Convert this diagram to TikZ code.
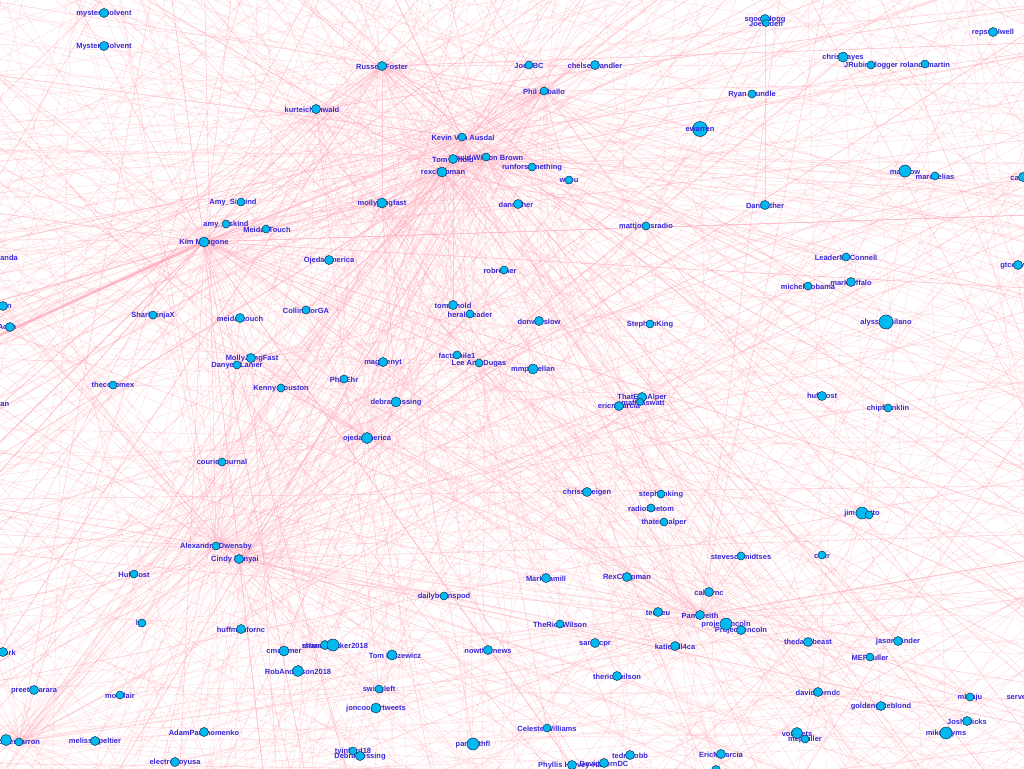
\documentclass[tikz,border=0pt]{standalone}
\usepackage{fontspec}
\setmainfont{Liberation Sans}
\definecolor{edgepink}{RGB}{255,170,185}
\definecolor{vfill}{RGB}{0,185,240}
\definecolor{vline}{RGB}{10,50,90}
\definecolor{labblue}{RGB}{55,40,215}
\tikzset{
  vtx/.style={circle,draw=vline,line width=0.5pt,fill=vfill,inner sep=0pt},
  lab/.style={font=\bfseries\fontsize{7.5}{8}\selectfont,text=labblue,inner sep=0pt},
  edge/.style={draw=edgepink,line width=0.3pt,draw opacity=0.5},
  bundle/.style={draw=edgepink,line width=2.6pt,draw opacity=0.8},
}
\def\nodelist{1/104/13/9/0/mysterysolvent,
2/104/46/9/0/MysterySolvent,
3/382/66/9/0/Russell Foster,
4/529/65/8/0/JoeNBC,
5/595/65/9/0/chelseahandler,
6/544/91/8/0/Phil Arballo,
7/765/19/9/0/snoopdogg,
8/766/23/7/0/JoeBiden,
9/993/32/9/0/repswalwell,
10/843/57/10/0/chrislhayes,
11/871/65/8/0/JRubinBlogger,
12/925/64/8/0/rolandsmartin,
13/752/94/8/0/Ryan Trundle,
14/316/109/9/-4/kurteichenwald,
15/700/129/15/0/,
16/462/137/8/1/Kevin Van Ausdal,
17/453/159/9/0/Tom Arnold,
18/486/157/8/1/David Wilson Brown,
19/442/172/10/1/rexchapman,
20/532/167/8/0/runforsomething,
21/569/180/8/0/wyeu,
22/905/171/12/0/maddow,
23/935/176/8/0/marceelias,
24/1023/177/9/14/carolecadwalla,
25/382/203/10/0/mollyjongfast,
26/518/204/9/-2/danrather,
27/241/202/8/-8/Amy\_Siskind,
28/765/205/9/0/DanRather,
29/226/224/8/0/amy\_siskind,
30/266/229/8/1/MeidasTouch,
31/646/226/8/0/mattjonesradio,
32/204/242/10/0/Kim Mangone,
33/-8/257/9/11/Amanda,
34/846/257/8/0/LeaderMcConnell,
35/1018/265/9/4/gtconway3d,
36/329/260/9/0/OjedaAmerica,
37/504/270/8/-4/robreiner,
38/808/286/8/0/michelleobama,
39/851/282/9/0/markruffalo,
40/3/306/9/-3/Robyn,
41/453/305/9/0/tomarnold,
42/470/314/8/0/heraldleader,
43/306/310/8/0/CollinsforGA,
44/153/315/8/0/SharkninjaX,
45/10/327/9/-3/Acyn,
46/240/318/9/0/meidastouch,
47/539/321/9/0/donwinslow,
48/650/324/8/0/StephenKing,
49/886/322/14/0/alyssa\_milano,
50/251/358/9/1/MollyJongFast,
51/237/365/8/0/Danyell Lanier,
52/457/355/8/0/factsmile1,
53/479/363/8/0/Lee Ann Dugas,
54/383/362/9/0/maggienyt,
55/533/369/10/0/mmpadellan,
56/113/385/8/0/thecorpmex,
57/281/388/8/0/Kenny Houston,
58/344/379/8/0/Phil Ehr,
59/642/397/9/0/ThatEricAlper,
60/640/402/7/3/maffcaswatt,
61/619/406/9/0/ericmgarcia,
62/822/396/9/0/huffpost,
63/888/408/8/0/chipfranklin,
64/-10/403/9/8/Moran,
65/396/402/10/0/debramessing,
66/367/438/11/0/ojedaamerica,
67/222/462/8/0/courierjournal,
68/587/492/9/0/chrissyteigen,
69/661/494/8/0/stephenking,
70/651/508/8/0/radiofreetom,
71/862/513/12/0/jimsciutto,
72/869/515/8/0/,
73/664/522/8/0/thatericalper,
74/216/546/8/0/Alexandra Owensby,
75/239/559/9/-4/Cindy Banyai,
76/741/556/8/0/steveschmidtses,
77/822/555/8/0/cher,
78/134/574/8/0/HuffPost,
79/546/578/9/0/MarkHamill,
80/627/577/9/0/RexChapman,
81/444/596/8/0/dailybeanspod,
82/709/592/9/0/calfornc,
83/700/615/9/0/Pam Keith,
84/658/612/9/0/tedlieu,
85/726/624/12/0/projectlincoln,
86/741/630/9/0/ProjectLincoln,
87/142/623/8/-1/lyk,
88/241/629/9/0/huffmanfornc,
89/560/624/8/0/TheRickWilson,
90/325/645/9/-4/rshandrew,
91/333/645/12/2/shandrabaker2018,
92/284/651/10/0/cmclymer,
93/298/671/11/0/RobAnderson2018,
94/392/655/10/3/Tom Palzewicz,
95/488/650/9/0/nowthisnews,
96/595/643/9/0/sarahcpr,
97/675/646/9/0/katiehill4ca,
98/3/652/9/-3/NewYork,
99/808/642/9/0/thedailybeast,
100/898/641/9/0/jasonkander,
101/870/657/8/0/MEPFuller,
102/617/676/9/0/therickwilson,
103/34/690/9/0/preetbharara,
104/120/695/8/0/motefair,
105/379/689/8/0/swingleft,
106/818/692/9/0/davidcorndc,
107/881/706/9/0/goldengateblond,
108/970/697/8/0/mkraju,
109/1034/697/9/0/servethepeople,
110/376/708/10/0/joncoopertweets,
111/967/721/9/0/Josh Hicks,
112/946/733/12/0/mikeesyms,
113/204/732/9/0/AdamParkhomenko,
114/6/740/11/0/,
115/19/742/8/0/peterbarron,
116/95/741/9/0/melissajpeltier,
117/547/728/8/0/Celeste Williams,
118/797/733/11/0/votevets,
119/805/739/8/0/mepfuller,
120/630/755/9/0/tedmcobb,
121/721/754/9/0/EricMGarcia,
122/175/762/9/0/electroboyusa,
123/353/751/8/0/tyinford18,
124/360/756/9/0/DebraMessing,
125/473/744/12/0/parkerthfl,
126/572/765/9/0/Phyllis Harvey-Hall,
127/604/763/9/0/DavidCornDC,
128/716/770/9/0/}
\begin{document}
\begin{tikzpicture}[x=1pt,y=-1pt]
\useasboundingbox (0,0) rectangle (1024,768);
\fill[white] (0,0) rectangle (1024,768);
\clip (0,0) rectangle (1024,768);
% vertex positions
\foreach \i/\x/\y/\s/\d/\t in \nodelist {\coordinate (v\i) at (\x,\y);}
% off-screen endpoints of edges
\foreach \k in {0,...,89} {\coordinate (o\k) at ({340+900*cos(\k*4+1)},{380+660*sin(\k*4+1)});}
\coordinate (kL) at (-400,517);
\pgfmathsetseed{11}
% background edges between off-screen vertices
\foreach \k in {1,...,560} {
  \pgfmathtruncatemacro\a{random(0,89)}
  \pgfmathtruncatemacro\b{random(0,89)}
  \draw[edge] (o\a) -- (o\b);
}
% hub fans
\foreach \h/\m in {32/110,18/70,16/50,3/55,83/55,74/65,75/45,6/40,17/30,19/30,66/30,115/35,25/20,50/25,14/20} {
  \foreach \k in {1,...,\m} {
    \pgfmathtruncatemacro\a{random(0,89)}
    \draw[edge] (v\h) -- (o\a);
  }
  \foreach \k in {1,...,15} {
    \pgfmathtruncatemacro\a{random(1,128)}
    \draw[edge] (v\h) -- (v\a);
  }
}
% random vertex-vertex edges
\foreach \k in {1,...,140} {
  \pgfmathtruncatemacro\a{random(1,128)}
  \pgfmathtruncatemacro\b{random(1,128)}
  \draw[edge] (v\a) -- (v\b);
}
\draw[edge] (v3) -- (v25);
\draw[edge] (v6) -- (v47);
\draw[bundle] (v32) -- (kL);
% labels
\foreach \i/\x/\y/\s/\d/\t in \nodelist {\node[lab] (l\i) at ([xshift=\d pt,yshift=-1pt]v\i) {\t};}
% vertices
\foreach \i/\x/\y/\s/\d/\t in \nodelist {\node[vtx,minimum size=\s pt] (n\i) at (v\i) {};}
\node[lab] (l15) at ([yshift=-1pt]v15) {ewarren};
\end{tikzpicture}
\end{document}
